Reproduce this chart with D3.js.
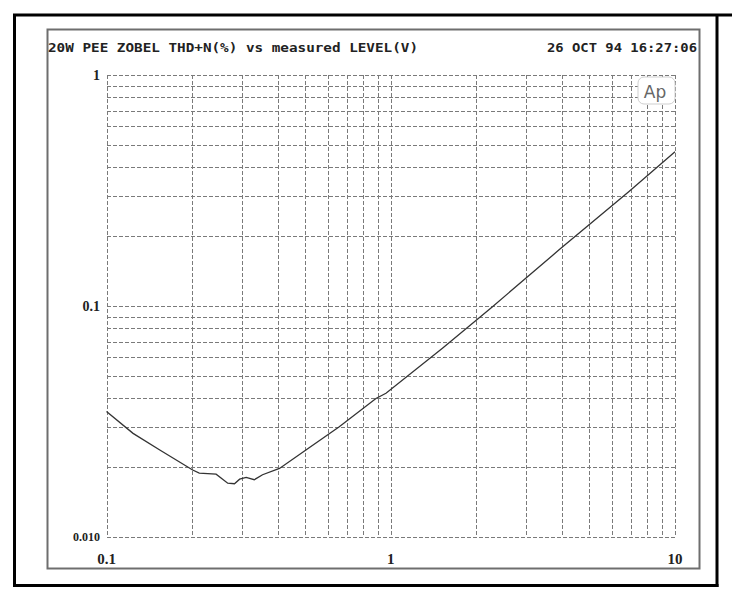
<!DOCTYPE html>
<html lang="en">
    <head>
        <meta charset="utf-8">
        <title>THD+N vs level</title>
        <script src="https://d3js.org/d3.v7.min.js" charset="utf-8"></script>
        <style>
        body {
            margin: 0;
            background: #fff;
        }
        .grid line {
            stroke: #7a7a7a;
            stroke-width: 1;
            stroke-dasharray: 4,2;
            shape-rendering: crispEdges;
        }
        .tick-label {
            font-family: "Liberation Serif", serif;
            font-weight: bold;
            fill: #222;
        }
        .head {
            font-family: "DejaVu Sans Mono", monospace;
            font-weight: bold;
            font-size: 13px;
            fill: #222;
        }
        </style>
    </head>
    <body>
        <div id="vis-container"></div>
        <script type="text/javascript">
        // measured level (V) and THD+N (%)
        var levelV = [0.1, 0.124, 0.154, 0.201, 0.212, 0.243, 0.267, 0.282, 0.294, 0.31, 0.331,
                      0.354, 0.406, 0.503, 0.659, 0.887, 0.962, 1.52, 2.28, 3.91, 6.89, 10];
        var thdN = [0.0349, 0.0281, 0.0238, 0.0195, 0.0189, 0.0187, 0.0171, 0.0170, 0.0178, 0.0181, 0.0177,
                    0.0186, 0.0198, 0.0238, 0.0300, 0.0398, 0.0419, 0.0656, 0.0993, 0.175, 0.313, 0.465];

        var xTickLabels = ["0.1", "1", "10"];
        var xTickValues = [0.1, 1, 10];
        var yTickLabels = ["1", "0.1", "0.010"];
        var yTickValues = [1, 0.1, 0.01];

        var titleText = "20W PEE ZOBEL THD+N(%) vs measured LEVEL(V)";
        var dateText = "26 OCT 94 16:27:06";

        var W = 732, H = 599;
        // plot area edges ("top" is taken by window.top, so prefixed names)
        var plotL = 106.5, plotR = 675, plotT = 75, plotB = 537;

        var svg = d3.select("#vis-container").append("svg")
            .attr("width", W)
            .attr("height", H);

        // outer page frame
        svg.append("line").attr("x1", 13).attr("x2", 732).attr("y1", 15).attr("y2", 15)
            .attr("stroke", "#000").attr("stroke-width", 3);
        svg.append("line").attr("x1", 14.5).attr("x2", 14.5).attr("y1", 14).attr("y2", 587)
            .attr("stroke", "#000").attr("stroke-width", 3);
        svg.append("line").attr("x1", 13).attr("x2", 718.5).attr("y1", 585.5).attr("y2", 585.5)
            .attr("stroke", "#000").attr("stroke-width", 3);
        svg.append("line").attr("x1", 717).attr("x2", 717).attr("y1", 14).attr("y2", 587)
            .attr("stroke", "#000").attr("stroke-width", 3);

        // inner grey frame
        svg.append("rect")
            .attr("x", 47.5).attr("y", 29.5)
            .attr("width", 652).attr("height", 539)
            .attr("fill", "none")
            .attr("stroke", "#6e6e6e")
            .attr("stroke-width", 2);

        var xScale = d3.scaleLog().domain([0.1, 10]).range([plotL, plotR]);
        var yScale = d3.scaleLog().domain([0.01, 1]).range([plotB, plotT]);

        // every log grid value 1..9 per decade
        function logGrid(lo, hi) {
            var out = [];
            for (var e = lo; e < hi; e++) {
                for (var k = 1; k < 10; k++) out.push(k * Math.pow(10, e));
            }
            out.push(Math.pow(10, hi));
            return out;
        }

        var grid = svg.append("g").attr("class", "grid");
        grid.selectAll(".vx")
            .data(logGrid(-1, 1))
            .enter().append("line")
            .attr("class", "vx")
            .attr("x1", function(d) { return Math.round(xScale(d)) + 0.5; })
            .attr("x2", function(d) { return Math.round(xScale(d)) + 0.5; })
            .attr("y1", plotT)
            .attr("y2", plotB);
        grid.selectAll(".hy")
            .data(logGrid(-2, 0))
            .enter().append("line")
            .attr("class", "hy")
            .attr("x1", plotL)
            .attr("x2", plotR)
            .attr("y1", function(d) { return Math.round(yScale(d)) + 0.5; })
            .attr("y2", function(d) { return Math.round(yScale(d)) + 0.5; });

        // Ap logo
        svg.append("rect")
            .attr("x", 638).attr("y", 77)
            .attr("width", 37).attr("height", 27)
            .attr("rx", 6)
            .attr("fill", "#fff")
            .attr("stroke", "#cfcfcf");
        svg.append("text")
            .attr("x", 655).attr("y", 98)
            .attr("text-anchor", "middle")
            .style("font-family", "DejaVu Sans, sans-serif")
            .style("font-size", "17px")
            .style("fill", "#666")
            .text("Ap");

        // data line
        var line = d3.line()
            .x(function(d, i) { return xScale(levelV[i]); })
            .y(function(d) { return yScale(d); });
        svg.append("path")
            .datum(thdN)
            .attr("d", line)
            .attr("fill", "none")
            .attr("stroke", "#333")
            .attr("stroke-width", 1.3);

        // tick labels
        svg.selectAll(".ylab")
            .data(yTickValues)
            .enter().append("text")
            .attr("class", "tick-label ylab")
            .attr("x", 100)
            .attr("y", function(d) { return yScale(d); })
            .attr("dy", "0.35em")
            .attr("text-anchor", "end")
            .style("font-size", function(d, i) { return i == 2 ? "12px" : "14px"; })
            .text(function(d, i) { return yTickLabels[i]; });
        svg.selectAll(".xlab")
            .data(xTickValues)
            .enter().append("text")
            .attr("class", "tick-label xlab")
            .attr("x", function(d) { return xScale(d); })
            .attr("y", 564)
            .attr("text-anchor", "middle")
            .style("font-size", "15px")
            .text(function(d, i) { return xTickLabels[i]; });

        // header texts
        svg.append("text")
            .attr("class", "head")
            .attr("x", 48).attr("y", 52)
            .attr("textLength", 370)
            .attr("lengthAdjust", "spacingAndGlyphs")
            .text(titleText);
        svg.append("text")
            .attr("class", "head")
            .attr("x", 547).attr("y", 52)
            .attr("textLength", 150)
            .attr("lengthAdjust", "spacingAndGlyphs")
            .text(dateText);
        </script>
    </body>
</html>
